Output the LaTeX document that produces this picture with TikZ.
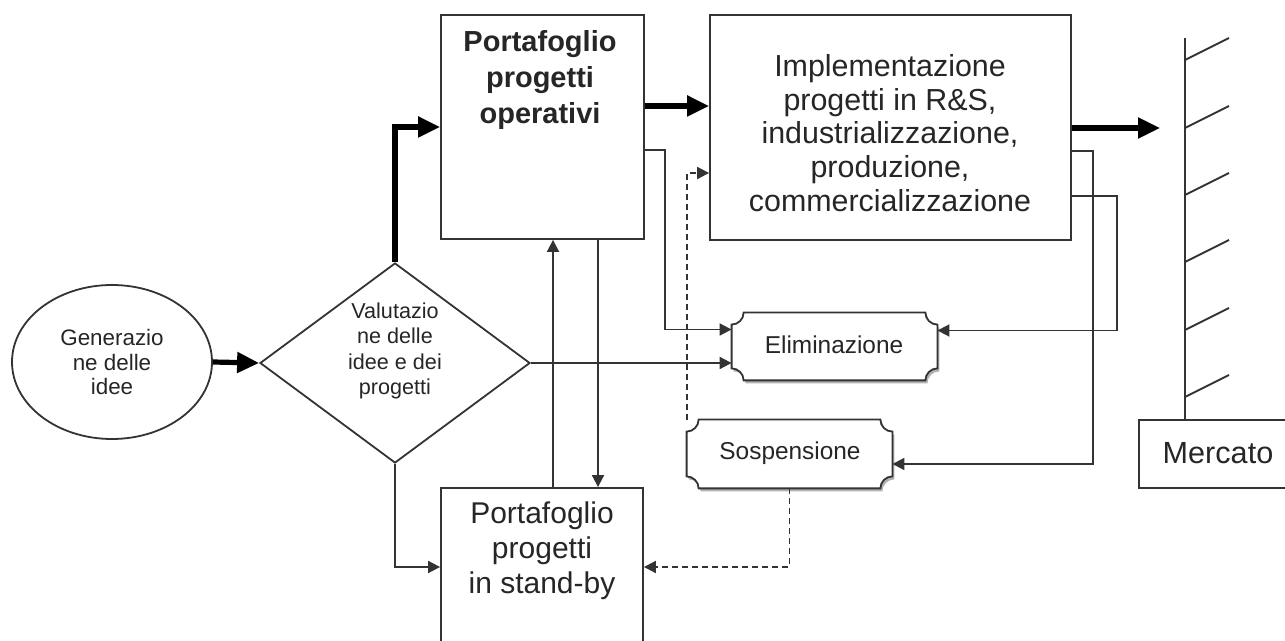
\documentclass[tikz,border=0pt]{standalone}
\usepackage{fontspec}
\setmainfont{Liberation Sans}
\usetikzlibrary{shapes.geometric,arrows.meta,calc}
\newcommand\plaquepath[3]{%
 let \p1=($(#1.north west)+(#2,#3)$), \p2=($(#1.south east)+(#2,#3)$) in
 (\x1+6pt,\y1) -- (\x2-6pt,\y1) arc[start angle=180,end angle=270,radius=6pt]
 -- (\x2,\y2+6pt) arc[start angle=90,end angle=180,radius=6pt]
 -- (\x1+6pt,\y2) arc[start angle=0,end angle=90,radius=6pt]
 -- (\x1,\y1-6pt) arc[start angle=270,end angle=360,radius=6pt] -- cycle}
\begin{document}
\begin{tikzpicture}[x=0.5pt,y=-0.5pt,
  ln/.style={draw=black!80, line width=0.9pt},
  thin arrow/.style={ln, -{Triangle[length=6pt,width=6pt]}},
  thick arrow/.style={draw=black, line width=2.6pt, -{Triangle[length=11pt,width=10pt]}},
  dash arrow/.style={ln, dash pattern=on 3pt off 2pt, -{Triangle[length=6pt,width=6pt]}},
  box/.style={draw=black!80, line width=0.9pt, fill=white, inner sep=0},
  txt/.style={align=center, text=black!85, inner sep=0},
  plq/.style={inner sep=0, minimum width=102.5pt},
]
\useasboundingbox (0,0) rectangle (1285,641);

% boxes
\node[box, minimum width=101.5pt, minimum height=112pt] (oper) at (542.5,127) {};
\node[txt, font=\bfseries\fontsize{14.5}{18}\selectfont] (operT) at (540,80) {Portafoglio\\progetti\\operativi};
\node[box, minimum width=180.5pt, minimum height=112.5pt] (impl) at (890.5,127.5) {};
\node[txt, font=\fontsize{15.2}{16.8}\selectfont] (implT) at (890,133) {Implementazione\\progetti in R\&S,\\industrializzazione,\\produzione,\\commercializzazione};
\node[box, minimum width=101pt, minimum height=86pt] (sb) at (542,574) {};
\node[txt, font=\fontsize{15}{17.5}\selectfont] (sbT) at (542,551) {Portafoglio\\progetti\\in stand-by};
\node[ellipse, ln, minimum width=100pt, minimum height=77pt, inner sep=0, align=center, text=black!85, font=\fontsize{11.2}{12.2}\selectfont] (gen) at (112,362) {Generazio\\ne delle\\idee};
\node[diamond, ln, minimum width=135pt, minimum height=100pt, inner sep=0] (val) at (395,363) {};
\node[txt, font=\fontsize{10.8}{12.8}\selectfont] (valT) at (395,351) {Valutazio\\ne delle\\idee e dei\\progetti};

% plaques
\node[plq, minimum height=33.5pt] (elim) at (834.5,346.5) {};
\node[plq, minimum height=34pt] (sosp) at (789.5,454) {};
\fill[gray!60] \plaquepath{elim}{2}{3};
\filldraw[fill=white, ln] \plaquepath{elim}{0}{0};
\fill[gray!60] \plaquepath{sosp}{2}{3};
\filldraw[fill=white, ln] \plaquepath{sosp}{0}{0};
\node[txt, font=\fontsize{12.2}{14}\selectfont] (elimT) at (834,345) {Eliminazione};
\node[txt, font=\fontsize{12.2}{14}\selectfont] (sospT) at (790,453) {Sospensione};

% market
\node[box, minimum width=80.5pt, minimum height=34pt] (merc) at (1219.5,454) {};
\node[txt, font=\fontsize{15.3}{17}\selectfont] (mercT) at (1218,453) {Mercato};
\coordinate (wtop) at (1185,38);
\draw[ln] (wtop) -- (merc.north -| wtop);
\foreach \y in {60,128,195,262,330,397} \draw[ln] (1185,\y) -- (1229,\y-22);

% helper coordinates
\coordinate (y106) at (0,106);
\coordinate (y173) at (0,173);
\coordinate (y567) at (0,567);
\coordinate (x553) at (553,0);
\coordinate (x598) at (598,0);
\coordinate (k1) at (665,150);
\coordinate (k2) at (1093,151);
\coordinate (k3) at (1117,196);
\coordinate (mkt) at (1160,128);

% connectors
\draw[thick arrow] (gen.east) -- (val.west);
\draw[thick arrow] (val.north) |- (oper.west);
\draw[thick arrow] (oper.east |- y106) -- (impl.west |- y106);
\draw[thick arrow] (impl.east |- mkt) -- (mkt);
\draw[thin arrow] (oper.east |- k1) -- (k1) |- ($(elim.west)+(0,-17)$);
\draw[thin arrow] (val.east) -- (val.east -| elim.west);
\draw[thin arrow] (sb.north -| x553) -- (oper.south -| x553);
\draw[thin arrow] (oper.south -| x598) -- (sb.north -| x598);
\draw[thin arrow] (val.south) |- (sb.west |- y567);
\draw[dash arrow] (sosp.south) |- (sb.east |- y567);
\draw[dash arrow] (sosp.north west) |- (impl.west |- y173);
\draw[thin arrow] (impl.east |- k2) -- (k2) |- ($(sosp.east)+(0,10)$);
\draw[thin arrow] (impl.east |- k3) -- (k3) |- ($(elim.east)+(0,-16)$);
\end{tikzpicture}
\end{document}
